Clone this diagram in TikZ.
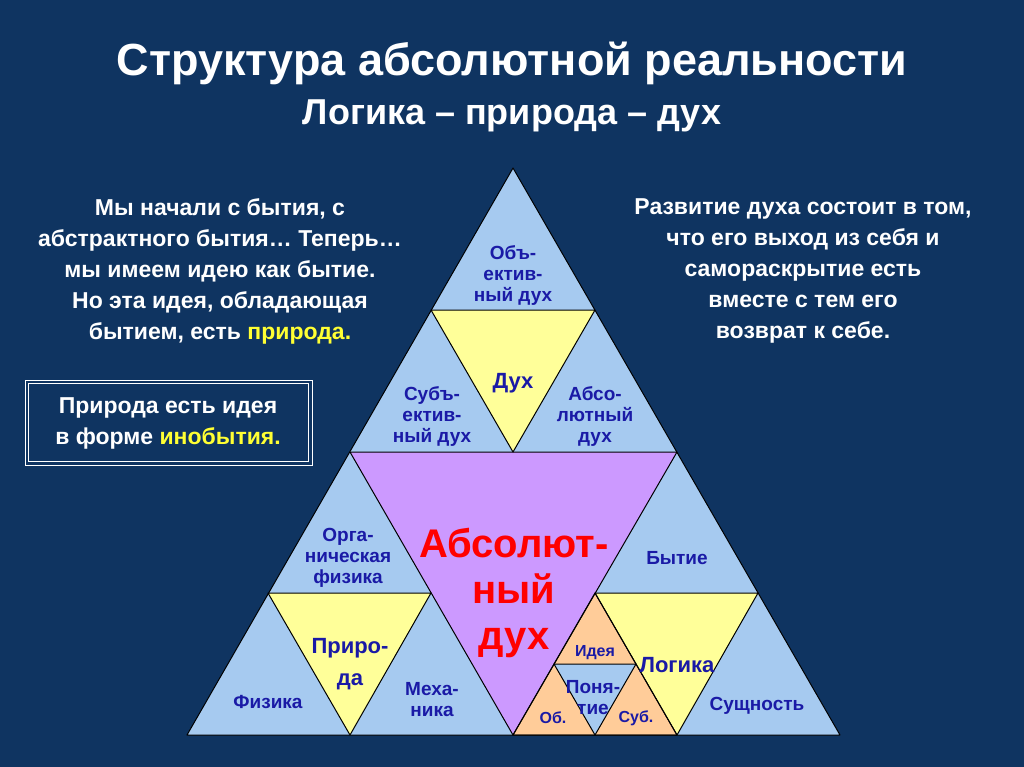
\documentclass[tikz,border=0pt]{standalone}
\usepackage{fontspec}
\setmainfont{Liberation Sans}
\begin{document}
\begin{tikzpicture}[x=1pt,y=-1pt,
  tri/.style={draw=black,line width=1pt,line join=round},
  lbl/.style={text=lblue,font=\bfseries\fontsize{19}{21}\selectfont,align=center,inner sep=0pt},
  big/.style={lbl,font=\bfseries\fontsize{22}{30}\selectfont},
  sml/.style={lbl,font=\bfseries\fontsize{16}{18}\selectfont},
  wt/.style={text=white,font=\bfseries\fontsize{23}{31}\selectfont,align=center,inner sep=0pt}]
\definecolor{bg}{HTML}{0F3461}
\definecolor{lb}{HTML}{A6CAF0}
\definecolor{yl}{HTML}{FFFF99}
\definecolor{pu}{HTML}{CC99FF}
\definecolor{orng}{HTML}{FFCC99}
\definecolor{lblue}{HTML}{1A1AA6}
\definecolor{ytext}{HTML}{FFFF33}
\fill[bg] (0,0) rectangle (1024,767);
\useasboundingbox (0,0) rectangle (1024,767);
% coordinates
\coordinate (A) at (513,168);
\coordinate (L) at (187,735);
\coordinate (R) at (840,735);
\coordinate (m1l) at (431,310); \coordinate (m1r) at (595,310);
\coordinate (m2l) at (350,452); \coordinate (m2r) at (677,452);
\coordinate (m3l) at (268,593); \coordinate (m3r) at (758,593);
\coordinate (b1) at (350,735); \coordinate (bm) at (513,735); \coordinate (b3) at (677,735);
\coordinate (c1) at (431,593); \coordinate (c3) at (595,593);
\coordinate (s1) at (554,664); \coordinate (s2) at (636,664); \coordinate (sb) at (595,735);
% shapes
\fill[lb] (A)--(L)--(R)--cycle;
\fill[yl] (m1l)--(m1r)--(513,452)--cycle;
\fill[pu] (m2l)--(m2r)--(bm)--cycle;
\fill[yl] (m3l)--(c1)--(b1)--cycle;
\fill[yl] (c3)--(m3r)--(b3)--cycle;
\fill[orng] (c3)--(bm)--(b3)--cycle;
\fill[lb] (s1)--(s2)--(sb)--cycle;
\draw[tri] (A)--(L)--(R)--cycle;
\draw[tri] (m1l)--(m1r)--(513,452)--cycle;
\draw[tri] (m2l)--(m2r)--(bm)--cycle;
\draw[tri] (m3l)--(c1)--(b1)--cycle;
\draw[tri] (c3)--(m3r)--(b3)--cycle;
\draw[tri] (c3)--(bm)--(b3)--cycle;
\draw[tri] (s1)--(s2)--(sb)--cycle;
% titles
\node[text=white,font=\bfseries\fontsize{45}{48}\selectfont] (t1) at (512,63) {Структура абсолютной реальности};
\node[text=white,font=\bfseries\fontsize{36}{40}\selectfont] (t2) at (512,116) {Логика – природа – дух};
\node[wt] (lt) at (220,271) {Мы начали с бытия, с\\абстрактного бытия… Теперь…\\мы имеем идею как бытие.\\Но эта идея, обладающая\\бытием, есть \textcolor{ytext}{природа.}};
\node[wt] (rt) at (803,271) {Развитие духа состоит в том,\\что его выход из себя и\\самораскрытие есть\\вместе с тем его\\возврат к себе.};
\draw[white,line width=0.8pt] (25,380) rectangle (312,465);
\draw[white,line width=1.2pt] (28.5,383.5) rectangle (308.5,461.5);
\node[wt] (box) at (168,423) {Природа есть идея\\в форме \textcolor{ytext}{инобытия.}};
% labels
\node[lbl] at (513,276) {Объ-\\ектив-\\ный дух};
\node[big] at (513,383) {Дух};
\node[lbl] at (432,417) {Субъ-\\ектив-\\ный дух};
\node[lbl] at (595,417) {Абсо-\\лютный\\дух};
\node[text=red,font=\bfseries\fontsize{40}{46}\selectfont,align=center] at (514,593) {Абсолют-\\ный\\дух};
\node[lbl] at (348,558) {Орга-\\ническая\\физика};
\node[big,font=\bfseries\fontsize{22}{32}\selectfont] at (350,664) {Приро-\\да};
\node[lbl] at (268,702) {Физика};
\node[lbl] at (432,700) {Меха-\\ника};
\node[lbl] at (677,558) {Бытие};
\node[big] at (677,665) {Логика};
\node[lbl] at (757,706) {Сущность};
\node[sml] at (595,653) {Идея};
\node[lbl] at (593,698) {Поня-\\тие};
\node[sml] at (553,718) {Об.};
\node[sml] at (636,718) {Суб.};
\end{tikzpicture}
\end{document}
